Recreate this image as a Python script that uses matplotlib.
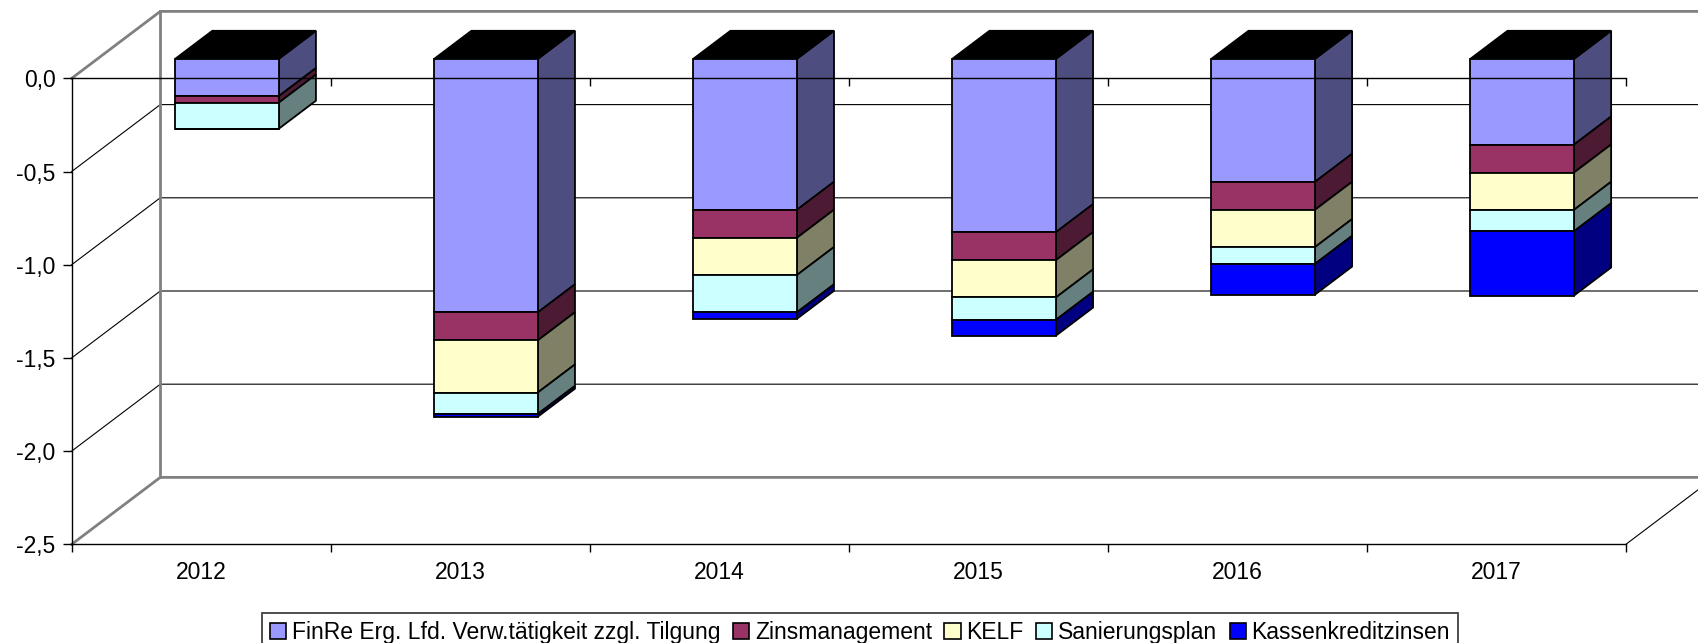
import numpy as np
import matplotlib.pyplot as plt
from matplotlib.patches import Polygon, Patch

plt.rcParams['font.family'] = ['Liberation Sans', 'DejaVu Sans']

years = ['2012', '2013', '2014', '2015', '2016', '2017']
finre = [-0.20, -1.36, -0.81, -0.93, -0.66, -0.46]
zins = [-0.035, -0.15, -0.15, -0.15, -0.15, -0.15]
kelf = [0.0, -0.28, -0.20, -0.20, -0.20, -0.20]
sanierung = [-0.14, -0.115, -0.20, -0.12, -0.09, -0.115]
kassen = [0.0, -0.015, -0.035, -0.085, -0.165, -0.345]
labels = ['FinRe Erg. Lfd. Verw.tätigkeit zzgl. Tilgung', 'Zinsmanagement', 'KELF',
          'Sanierungsplan', 'Kassenkreditzinsen']
yticks = [0.0, -0.5, -1.0, -1.5, -2.0, -2.5]

front_cols = ['#9999FF', '#993366', '#FFFFCC', '#CCFFFF', '#0000FF']
side_cols = ['#4D4D80', '#4D1A33', '#808066', '#668080', '#000080']

# oblique 3d: full depth shifts by DX categories and DY value units
DX, DY = 0.342, 0.359
d0, d1 = 0.29, 0.71
bw = 0.4
gray = '#808080'


def proj(x, y, d):
    return (x + d * DX, y + d * DY)


def line3(ax, pts, **kw):
    xy = [proj(*p) for p in pts]
    ax.plot([p[0] for p in xy], [p[1] for p in xy], clip_on=False, solid_capstyle='projecting', **kw)


fig = plt.figure(figsize=(16.99, 6.43), dpi=100)
ax = fig.add_axes([0.0422, 0.1535, 0.9148, 0.7247])
ax.set_xlim(0, 6)
ax.set_ylim(-2.5, 0)
ax.patch.set_visible(False)

# walls
for v in yticks[1:-1]:
    line3(ax, [(0, v, 0), (0, v, 1), (6, v, 1)], color='black', lw=0.8, zorder=0.5)
for v in [0.0, -2.5]:
    line3(ax, [(0, v, 0), (0, v, 1), (6, v, 1)], color=gray, lw=2, zorder=0.6)
line3(ax, [(0, 0, 1), (0, -2.5, 1)], color=gray, lw=2, zorder=0.6)
line3(ax, [(6, -2.5, 0), (6, -2.5, 1)], color='black', lw=0.8, zorder=0.5)

series = [finre, zins, kelf, sanierung, kassen]
x = np.arange(len(years))

# side and top faces
for i in range(len(years)):
    xl = i + 0.5 - bw / 2
    xr = i + 0.5 + bw / 2
    top = 0.0
    for s, vals in enumerate(series):
        v = vals[i]
        if v == 0:
            continue
        bot = top + v
        side = [proj(xr, top, d0), proj(xr, top, d1), proj(xr, bot, d1), proj(xr, bot, d0)]
        ax.add_patch(Polygon(side, closed=True, fc=side_cols[s], ec='black', lw=1.3,
                             zorder=1, clip_on=False, joinstyle='miter'))
        top = bot
    lid = [proj(xl, 0, d0), proj(xl, 0, d1), proj(xr, 0, d1), proj(xr, 0, d0)]
    ax.add_patch(Polygon(lid, closed=True, fc='black', ec='black', lw=1.3, zorder=1,
                         clip_on=False, joinstyle='miter'))

# front faces
cum = np.zeros(len(years))
for s, vals in enumerate(series):
    vals = np.array(vals)
    bars = ax.bar(x + 0.5 + d0 * DX, vals, width=bw, bottom=cum + d0 * DY,
                  color=front_cols[s], edgecolor='black', linewidth=1.3, zorder=1.5)
    for b in bars:
        b.set_clip_on(False)
    cum = cum + vals

# axes
for sp in ['top', 'right']:
    ax.spines[sp].set_visible(False)
for sp in ['left', 'bottom']:
    ax.spines[sp].set_linewidth(1)
    ax.spines[sp].set_zorder(2.5)

ax.set_yticks(yticks)
ax.set_yticklabels([f'{v:.1f}'.replace('.', ',') for v in yticks])
ax.tick_params(axis='y', length=6.5, width=1, pad=5, labelsize=16.5)

ax.set_xticks(range(7))
ax.set_xticklabels([])
ax.set_xticks(x + 0.5, minor=True)
ax.set_xticklabels(years, minor=True)
ax.tick_params(axis='x', which='major', length=5.8, width=1)
ax.tick_params(axis='x', which='minor', length=0, pad=12, labelsize=16.5)

# zero line of the front plane, drawn above the bars
secax = ax.secondary_xaxis('top')
secax.set_xticks(range(1, 7))
secax.tick_params(direction='in', length=5.8, width=1, labeltop=False)
secax.spines['top'].set_linewidth(1)
secax.set_zorder(3)

handles = [Patch(fc=c, ec='black', lw=1.2) for c in front_cols]
leg = fig.legend(handles, labels, loc='upper center', bbox_to_anchor=(860 / 1699, 1 - 613 / 643),
                 ncol=5, fontsize=16.5, frameon=True, fancybox=False, edgecolor='#404040',
                 handlelength=0.7, handleheight=0.7, handletextpad=0.25, columnspacing=0.55,
                 borderaxespad=0, borderpad=0.35, framealpha=1)
leg.get_frame().set_linewidth(1.3)

fig.savefig('out.png', dpi=100)
